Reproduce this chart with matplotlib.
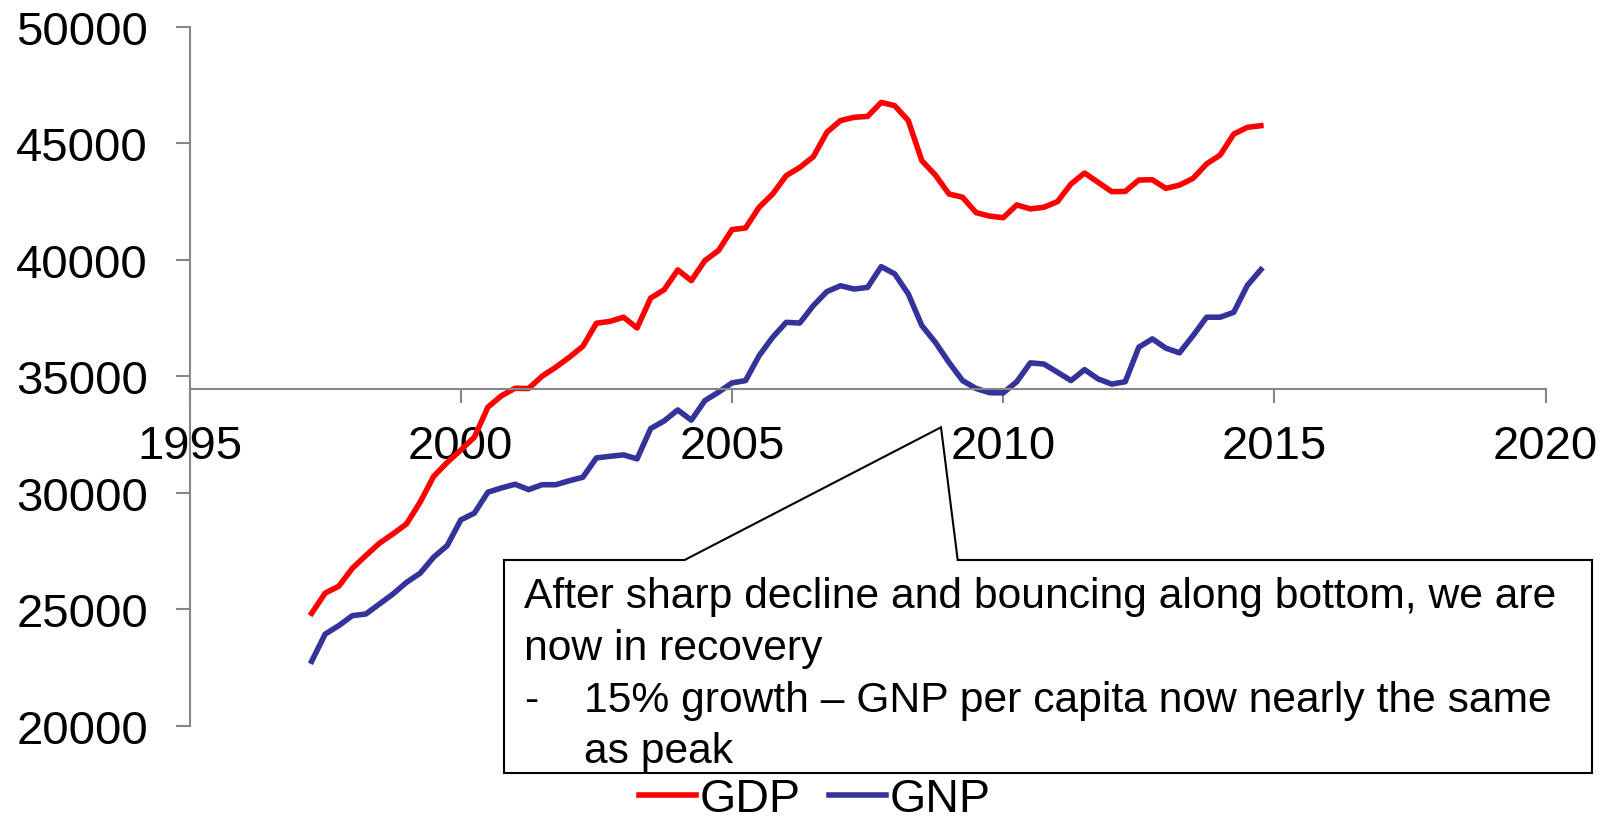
import matplotlib
matplotlib.use("Agg")
import matplotlib.pyplot as plt
from matplotlib.patches import Polygon

plt.rcParams['font.family'] = ['Liberation Sans', 'DejaVu Sans']

# quarterly data, first point 1997 Q2
start_year = 1997
start_quarter = 2

gdp = [24820, 25690, 25980, 26750, 27300, 27830, 28230, 28660, 29590, 30700,
       31300, 31830, 32380, 33670, 34160, 34480, 34470, 35000, 35380, 35810,
       36280, 37270, 37350, 37530, 37070, 38350, 38710, 39560, 39100, 39960,
       40390, 41290, 41360, 42250, 42820, 43610, 43960, 44420, 45470, 45970,
       46110, 46150, 46750, 46610, 45970, 44250, 43630, 42820, 42680, 42020,
       41870, 41800, 42350, 42180, 42250, 42490, 43250, 43720, 43320, 42920,
       42930, 43420, 43430, 43060, 43200, 43490, 44110, 44490, 45390, 45680,
       45750]

gnp = [22760, 23930, 24290, 24720, 24790, 25220, 25650, 26150, 26540, 27230,
       27730, 28830, 29120, 30020, 30200, 30360, 30130, 30340, 30340, 30510,
       30660, 31490, 31560, 31620, 31450, 32750, 33080, 33550, 33110, 33950,
       34310, 34710, 34810, 35880, 36670, 37310, 37280, 38030, 38630, 38880,
       38740, 38810, 39700, 39390, 38530, 37170, 36450, 35590, 34810, 34470,
       34290, 34280, 34760, 35570, 35520, 35170, 34810, 35280, 34880, 34660,
       34760, 36240, 36600, 36200, 36000, 36740, 37530, 37530, 37740, 38890,
       39570]

x_ticks = [1995, 2000, 2005, 2010, 2015, 2020]
y_ticks = [20000, 25000, 30000, 35000, 40000, 45000, 50000]

note_lines = ["After sharp decline and bouncing along bottom, we are",
              "now in recovery",
              "15% growth \u2013 GNP per capita now nearly the same",
              "as peak"]


def quarter_dates(n):
    dates = []
    for i in range(n):
        q = start_quarter - 1 + i
        dates.append(start_year + q / 4.0)
    return dates


W, H = 1607, 820
fig = plt.figure(figsize=(W / 100, H / 100), dpi=100)
ax = fig.add_axes([189.6 / W, 1 - 726.6 / H, 1356 / W, 698.9 / H])

dates = quarter_dates(len(gdp))
ax.plot(dates, gdp, color='#ff0000', lw=4, label='GDP')
ax.plot(dates, gnp, color='#333399', lw=4, label='GNP')

ax.set_xlim(1995, 2020)
ax.set_ylim(20000, 50000)
ax.set_xticks(x_ticks)
ax.set_yticks(y_ticks)

axis_grey = '#868686'
ax.spines['top'].set_visible(False)
ax.spines['right'].set_visible(False)
ax.spines['bottom'].set_position(('data', 34450))
for s in ['left', 'bottom']:
    ax.spines[s].set_color(axis_grey)
    ax.spines[s].set_linewidth(1.5)
ax.tick_params(axis='both', colors=axis_grey, labelcolor='black',
               length=10, width=1.5, direction='out')
ax.tick_params(axis='y', labelsize=34, pad=20)
ax.tick_params(axis='x', labelsize=34, pad=15)


# callout box with pointer (pixel positions of the box, tip on the chart)
def fx(px):
    return px / W


def fy(py):
    return 1 - py / H


box = [(504, 561), (684.6, 561), (941, 428.3), (957.7, 561), (1592, 561),
       (1592, 774), (504, 774)]
callout = Polygon([(fx(a), fy(b)) for a, b in box], closed=True,
                  facecolor='white', edgecolor='black', lw=1.5,
                  transform=fig.transFigure, zorder=5)
fig.patches.append(callout)

fs = 30.7
fig.text(fx(523.7), fy(597.5), note_lines[0], fontsize=fs, va='center', zorder=6)
fig.text(fx(523.7), fy(649), note_lines[1], fontsize=fs, va='center', zorder=6)
fig.text(fx(523.7), fy(700.7), "-", fontsize=fs, va='center', zorder=6)
fig.text(fx(584), fy(700.7), note_lines[2], fontsize=fs, va='center', zorder=6)
fig.text(fx(584), fy(752.3), note_lines[3], fontsize=fs, va='center', zorder=6)

fig.legend(loc='center', bbox_to_anchor=(0.507, fy(800)), ncol=2,
           frameon=False, fontsize=33.6, handlelength=1.22, handletextpad=0.07,
           columnspacing=0.62, borderpad=0)

fig.savefig('out.png', dpi=100)
